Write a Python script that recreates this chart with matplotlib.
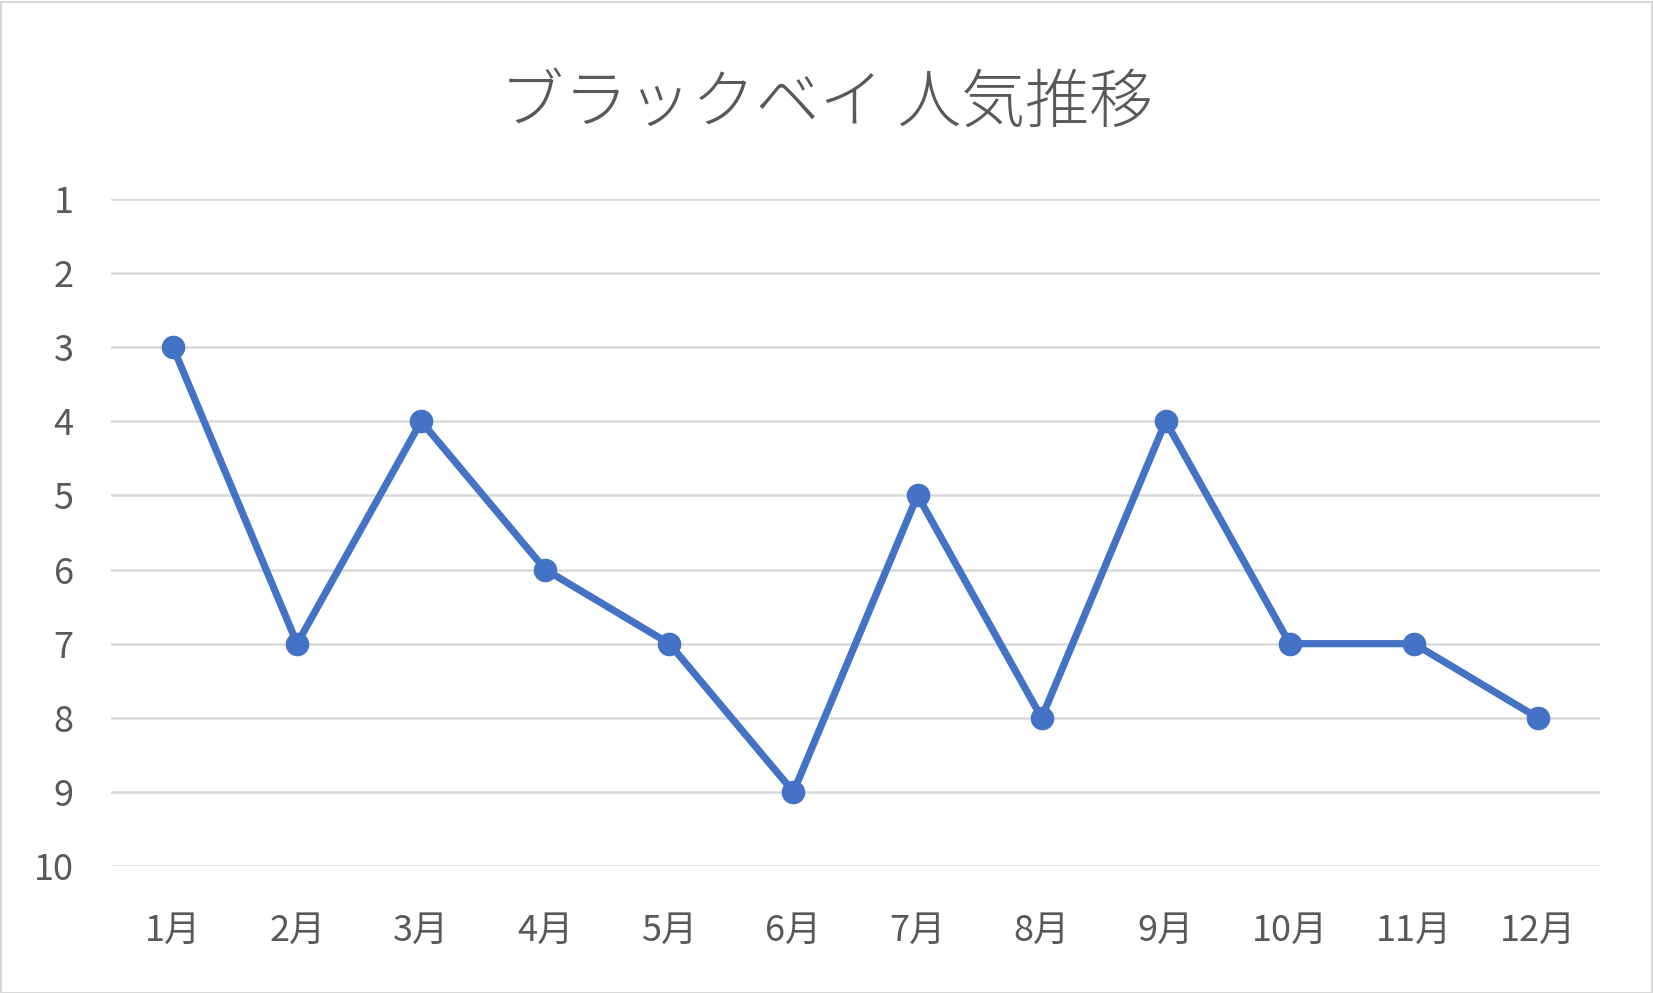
import matplotlib
matplotlib.use("Agg")
import matplotlib.pyplot as plt
from matplotlib.patches import Rectangle

plt.rcParams['font.family'] = ['Noto Sans CJK JP', 'DejaVu Sans']

months = ['1月', '2月', '3月', '4月', '5月', '6月', '7月', '8月', '9月', '10月', '11月', '12月']
ranks = [3, 7, 4, 6, 7, 9, 5, 8, 4, 7, 7, 8]
y_ticks = [1, 2, 3, 4, 5, 6, 7, 8, 9, 10]
title = 'ブラックベイ 人気推移'

W, H = 1653, 993
fig = plt.figure(figsize=(W / 100, H / 100), dpi=100)
fig.patch.set_facecolor('white')
fig.add_artist(Rectangle((0.5 / W, 0.5 / H), 1 - 2 / W, 1 - 2 / H, transform=fig.transFigure,
                         fill=False, edgecolor='#d9d9d9', linewidth=1.5))

left, right = 111 / W, 1600 / W
top, bottom = 1 - 199 / H, 1 - 866 / H
ax = fig.add_axes([left, bottom, right - left, top - bottom])

x = list(range(len(months)))
ax.plot(x, ranks, color='#4472C4', linewidth=5.2, marker='o', markersize=16,
        markerfacecolor='#4472C4', markeredgecolor='#4472C4', solid_joinstyle='round', zorder=3)

ax.set_xlim(-0.5, len(months) - 0.5)
ax.set_ylim(10, 1)
ax.set_yticks(y_ticks)
ax.set_yticklabels([str(v) for v in y_ticks])
ax.set_xticks(x)
ax.set_xticklabels(months)
ax.grid(axis='y', color='#d9d9d9', linewidth=1.8)
ax.set_axisbelow(True)
for s in ax.spines.values():
    s.set_visible(False)
ax.tick_params(axis='both', length=0, labelsize=26, labelcolor='#595959')
ax.tick_params(axis='y', pad=27)
ax.tick_params(axis='x', pad=34)
for lab in ax.get_yticklabels():
    lab.set_horizontalalignment('right')

fig.text(0.5, 1 - 104 / H, title, ha='center', va='center', fontsize=46,
         color='#595959', fontweight='light')

fig.savefig('out.png', dpi=100)
